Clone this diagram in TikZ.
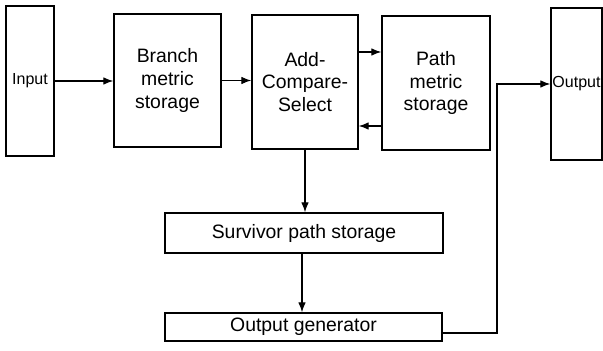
\documentclass[tikz,border=0pt]{standalone}
\usepackage{fontspec}
\setmainfont{Liberation Sans}
\usetikzlibrary{arrows.meta}
\tikzset{
  block/.style={draw, line width=0.7pt, align=center, inner sep=0pt,
    font=\fontsize{9.7}{11.3}\selectfont},
  port/.style={block, font=\fontsize{8}{9.6}\selectfont},
  link/.style={line width=0.55pt, -{Latex[length=5pt,width=3.8pt]}},
}
\begin{document}
\begin{tikzpicture}[x=0.5pt, y=-0.5pt]
    \useasboundingbox (0,0) rectangle (603,351);
    % input and output ports
    \node[port, minimum width=24pt, minimum height=75pt] (inp) at (30,81) {Input};
    \node[port, minimum width=25.5pt, minimum height=76pt] (outp) at (576.5,84) {Output};
    % top row of blocks
    \node[block, minimum width=53.5pt, minimum height=66.5pt] (bms) at (167.5,80.5) {Branch\\metric\\storage};
    \node[block, minimum width=53pt, minimum height=67pt] (acs) at (305,82) {Add-\\Compare-\\Select};
    \node[block, minimum width=54pt, minimum height=67pt] (pms) at (436,83) {Path\\metric\\storage};
    % survivor path and output stages
    \node[block, minimum width=139pt, minimum height=20pt] (sps) at (304,233) {Survivor path storage};
    \node[block, minimum width=138.5pt, minimum height=14pt] (ogen) at (303.5,327) {Output generator};
    \coordinate (bend) at (497,333);
    % connections
    \draw[link] (inp.east) -- (bms.west |- inp.east);
    \draw[link] (bms.east) -- (acs.west |- bms.east);
    \draw[link] ([yshift=15pt]acs.east) -- ([yshift=15pt]acs.east -| pms.west);
    \draw[link] ([yshift=-21.5pt]pms.west) -- ([yshift=-21.5pt]pms.west -| acs.east);
    \draw[link] (acs.south) -- (acs.south |- sps.north);
    \draw[link] ([xshift=-1pt]sps.south) -- ([xshift=-1pt]sps.south |- ogen.north);
    \draw[link] ([yshift=-3pt]ogen.east) -- ([yshift=-3pt]ogen.east -| bend) |- (outp.west);
\end{tikzpicture}
\end{document}
